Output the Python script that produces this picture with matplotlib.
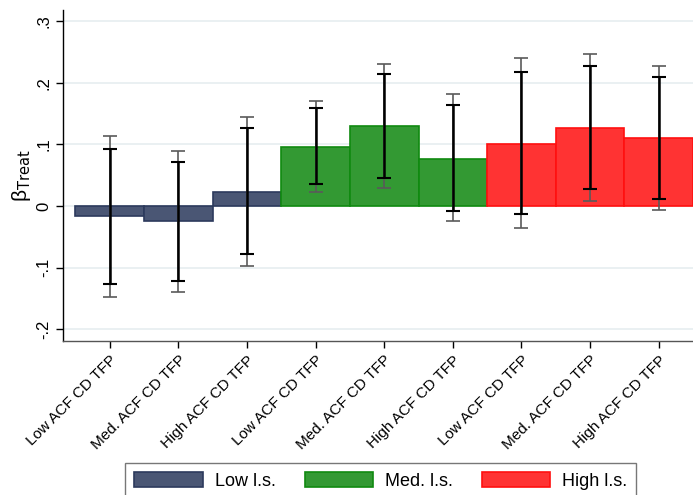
import numpy as np
import matplotlib.pyplot as plt

plt.rcParams['font.family'] = ['Liberation Sans', 'DejaVu Sans']

# data
labels = ['Low ACF CD TFP', 'Med. ACF CD TFP', 'High ACF CD TFP'] * 3
coef = [-0.017, -0.024, 0.023, 0.096, 0.129, 0.077, 0.101, 0.127, 0.110]
ci95_lo = [-0.148, -0.140, -0.098, 0.022, 0.029, -0.024, -0.036, 0.008, -0.007]
ci95_hi = [0.114, 0.090, 0.145, 0.171, 0.230, 0.181, 0.240, 0.247, 0.227]
ci90_lo = [-0.127, -0.121, -0.078, 0.035, 0.045, -0.008, -0.013, 0.028, 0.011]
ci90_hi = [0.093, 0.071, 0.127, 0.159, 0.214, 0.164, 0.218, 0.227, 0.209]
groups = ['Low l.s.', 'Med. l.s.', 'High l.s.']
fills = ['#4a5674', '#339933', '#ff3333']
edges = ['#2c3a5c', '#108a10', '#ff1010']

x = np.arange(1, 10)
coef = np.array(coef)

fig = plt.figure(figsize=(6.93, 4.95), dpi=100)
ax = fig.add_axes([0.091, 0.311, 0.909, 0.669])

for g in range(3):
    idx = slice(3 * g, 3 * g + 3)
    ax.bar(x[idx], coef[idx], width=1.0, color=fills[g], edgecolor=edges[g],
           linewidth=1.2, label=groups[g], zorder=2)

lo95 = coef - np.array(ci95_lo)
hi95 = np.array(ci95_hi) - coef
lo90 = coef - np.array(ci90_lo)
hi90 = np.array(ci90_hi) - coef
ax.errorbar(x, coef, yerr=[lo95, hi95], fmt='none', ecolor='#5a5a5a',
            elinewidth=1.2, capsize=4.8, capthick=1.2, zorder=3)
ax.errorbar(x, coef, yerr=[lo90, hi90], fmt='none', ecolor='black',
            elinewidth=1.8, capsize=4.8, capthick=1.5, zorder=4)

ax.set_xlim(0.32, 9.5)
ax.set_ylim(-0.219, 0.318)
ax.set_yticks([-0.2, -0.1, 0, 0.1, 0.2, 0.3])
ax.set_yticklabels(['-.2', '-.1', '0', '.1', '.2', '.3'], rotation=90,
                   va='center', fontsize=12)
ax.set_xticks(x)
ax.set_xticklabels(labels, rotation=45, ha='right', rotation_mode='anchor',
                   fontsize=11)
ax.tick_params(axis='both', direction='out', length=5, width=1)
ax.set_ylabel('β$_{\\mathrm{Treat}}$', fontsize=15, labelpad=2)

ax.yaxis.grid(True, color='#e6eef0', linewidth=1.2, zorder=0)
ax.set_axisbelow(True)
for s in ['top', 'right']:
    ax.spines[s].set_visible(False)
ax.spines['left'].set_linewidth(1)
ax.spines['bottom'].set_linewidth(1)
ax.spines['bottom'].set_color('#555555')

leg = fig.legend(loc='upper left', bbox_to_anchor=(0.181, 0.065), ncol=3,
                 fontsize=13, frameon=True, fancybox=False, edgecolor='#555555',
                 handlelength=3.8, handleheight=0.95, handletextpad=0.65,
                 columnspacing=1.6, borderpad=0.5, borderaxespad=0)
leg.get_frame().set_linewidth(1)

fig.savefig('out.png', dpi=100)
